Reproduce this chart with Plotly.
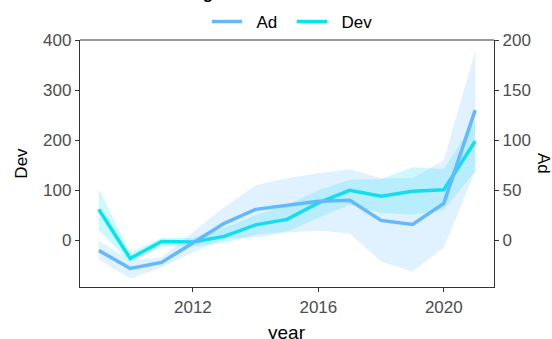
import plotly.graph_objects as go

# Yearly series with their uncertainty bands
years = [2009, 2010, 2011, 2012, 2013, 2014, 2015, 2016, 2017, 2018, 2019, 2020, 2021]

ad = [-10, -28, -22, -2, 17, 31, 35, 39, 40, 20, 16, 37, 130]
ad_upper = [0, -20, -17, 8, 33, 55, 62, 67, 71, 62, 62, 80, 189]
ad_lower = [-19, -38, -27, -12, 2, 3, 8, 10, 7, -21, -31, -7, 69]

dev = [62, -36, -2, -3, 8, 31, 42, 75, 100, 88, 98, 101, 198]
dev_upper = [102, -24, 5, 5, 25, 50, 70, 100, 121, 122, 146, 142, 240]
dev_lower = [21, -44, -12, -12, -5, 12, 18, 45, 71, 55, 51, 61, 138]

dev_ticks = [0, 100, 200, 300, 400]
ad_ticks = [0, 50, 100, 150, 200]

AD_COLOR = "#63B8FF"
DEV_COLOR = "#00E5EE"
AD_FILL = "rgba(99,184,255,0.2)"
DEV_FILL = "rgba(0,229,238,0.2)"
FONT = "Liberation Sans, Arial, sans-serif"
PAD = "&nbsp;&nbsp;"  # extra gap between legend key and its label

fig = go.Figure()

# Bands
fig.add_trace(go.Scatter(
    x=years + years[::-1], y=dev_upper + dev_lower[::-1],
    fill="toself", fillcolor=DEV_FILL, line=dict(width=0),
    mode="lines", hoverinfo="skip", showlegend=False, yaxis="y"))
fig.add_trace(go.Scatter(
    x=years + years[::-1], y=ad_upper + ad_lower[::-1],
    fill="toself", fillcolor=AD_FILL, line=dict(width=0),
    mode="lines", hoverinfo="skip", showlegend=False, yaxis="y2"))

# Lines
fig.add_trace(go.Scatter(x=years, y=ad, mode="lines", name=PAD + "Ad",
                         line=dict(color=AD_COLOR, width=3.5), yaxis="y2"))
fig.add_trace(go.Scatter(x=years, y=dev, mode="lines", name=PAD + "Dev",
                         line=dict(color=DEV_COLOR, width=3.5), yaxis="y"))

axis_common = dict(
    showgrid=False, zeroline=False, showline=True, linecolor="#333333",
    linewidth=1.3, ticks="outside", ticklen=4, tickwidth=1.1, tickcolor="#333333",
    tickfont=dict(family=FONT, size=17, color="#4D4D4D"), automargin=False,
)

fig.update_layout(
    width=552, height=339,
    margin=dict(l=80, r=58, t=40, b=52, autoexpand=False),
    paper_bgcolor="white", plot_bgcolor="white",
    font=dict(family=FONT, color="black"),
    xaxis=dict(range=[2008.4, 2021.6], tickvals=[2012, 2016, 2020], **axis_common),
    yaxis=dict(
        range=[-93, 400], tickvals=dev_ticks,
        title=dict(text="Dev", font=dict(family=FONT, size=17, color="black"),
                   standoff=11),
        **axis_common),
    yaxis2=dict(
        range=[-46.5, 200], tickvals=ad_ticks, overlaying="y", side="right",
        **axis_common),
    legend=dict(orientation="h", x=0.512, xanchor="center", y=1.073,
                yanchor="middle", font=dict(family=FONT, size=17, color="black"),
                itemwidth=30, entrywidth=40, entrywidthmode="pixels",
                bgcolor="rgba(0,0,0,0)", traceorder="normal"),
    showlegend=True,
)

# Top border of the panel
fig.add_shape(type="line", xref="paper", yref="paper", x0=0, x1=1, y0=1, y1=1,
              line=dict(color="#777777", width=1.3))

# x-axis title
fig.add_annotation(text="year", xref="paper", yref="paper", x=0.5, xanchor="center",
                   y=-0.1336, yanchor="top", showarrow=False,
                   font=dict(family=FONT, size=19, color="black"))

# Secondary axis title, reading top to bottom
fig.add_annotation(text="Ad", xref="paper", yref="paper", x=1.1195, xanchor="center",
                   y=0.5, yanchor="middle", textangle=90, showarrow=False,
                   font=dict(family=FONT, size=17, color="black"))

# Plot title
fig.add_annotation(text="<b>Funding</b>", xref="paper", yref="paper",
                   x=0.327, xanchor="right", y=1.14, yanchor="bottom",
                   showarrow=False, font=dict(family=FONT, size=17, color="black"))

fig.write_html("out.html")
